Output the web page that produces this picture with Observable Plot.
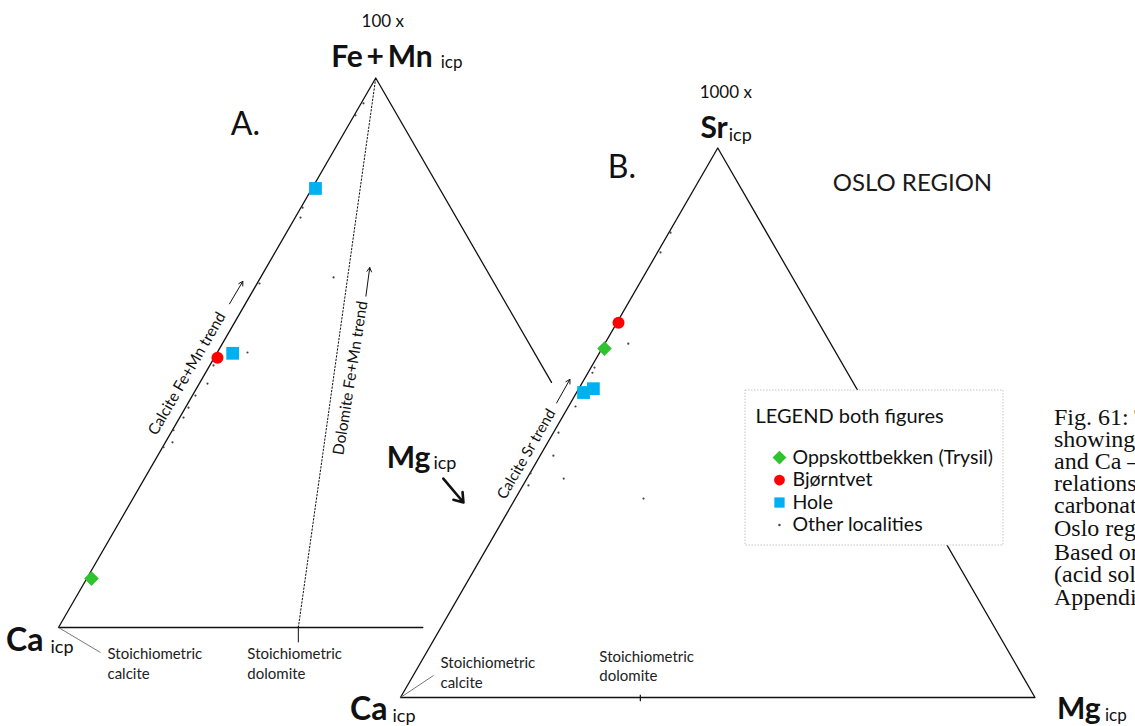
<!DOCTYPE html>
<html>
<head>
<meta charset="utf-8">
<script src="https://cdn.jsdelivr.net/npm/d3@7"></script>
<script src="https://cdn.jsdelivr.net/npm/@observablehq/plot@0.6"></script>
<style>
  html, body { margin: 0; padding: 0; background: #fff; overflow: hidden; }
</style>
</head>
<body>
<div id="chart"></div>
<script>
// ---------------- DATA (percent of the ternary sum) ----------------
const localities      = ["Oppskottbekken (Trysil)", "Bjørntvet", "Hole", "Other localities"];
const localityColors  = ["#2ec42e", "#ff0000", "#00b0f0", "#444444"];
const localitySymbols = ["diamond2", "circle", "square", "circle"];

// Panel A : (Fe+Mn)x100 – Ca – Mg
const aSampleLocality = ["Oppskottbekken (Trysil)", "Bjørntvet", "Hole", "Hole"];
const aSampleFeMn     = [8.9, 49.1, 79.9, 49.9];
const aSampleMg       = [0.75, 0.5, 0.55, 2.5];
const aOtherFeMn = [95.4, 93.2, 76.4, 74.6, 62.6, 63.7, 50.05, 47.7, 44.4, 42.2, 40.0, 38.2, 35.9, 33.7, 32.8];
const aOtherMg   = [0.37, 0.2, 0.26, 0.84, 0.38, 11.5, 4.76, 0.58, 1.28, 0.49, 0.49, 0.6, 0.17, 1.12, 0.15];

// Panel B : Sr x1000 – Ca – Mg
const bSampleLocality = ["Oppskottbekken (Trysil)", "Bjørntvet", "Hole", "Hole"];
const bSampleSr       = [63.5, 68.2, 55.5, 56.2];
const bSampleMg       = [0.4, 0.26, 1.1, 2.3];
const bOtherSr = [84.6, 81.0, 64.4, 60.05, 59.1, 52.96, 48.2, 44.0, 40.8, 39.85, 38.6, 36.2];
const bOtherMg = [0.25, 0.48, 3.7, 0.55, 0.7, 1.1, 0.8, 2.1, 0.1, 5.8, 0.87, 20.2];

const stoichDolomiteMg = 37.8;   // Mg share of stoichiometric dolomite on the Ca–Mg side

// visible parts of the triangle outlines (top %, Mg %)
const aOutlineTop = [0, 0, 100, 44.6];
const aOutlineMg  = [57.4, 0, 0, 55.4];
const bOutlineTop = [0, 100, 0, 0];
const bOutlineMg  = [0, 0, 100, 0];

const captionLines1 = ["Fig. 61: Ternary diagrams", "showing Fe+Mn – Ca – Mg", "and Ca – Sr – Mg", "relationships in", "carbonates from the", "Oslo region."];
const captionLines2 = ["Based on ICP analyses", "(acid soluble fraction),", "Appendix"];

// ---------------- LAYOUT ----------------
const W = 1135, H = 726;
const PX = 6.345;                  // pixels per percent of a triangle side
const SQ = Math.sqrt(3) / 2;
const origin = {A: [58 / PX, (H - 627) / PX], B: [400 / PX, (H - 697) / PX]};
function tern(panel, top, mg) {
  const [ox, oy] = origin[panel];
  return {x: ox + mg + top / 2, y: oy + top * SQ};
}
const seg = (p, q) => ({x1: p.x, y1: p.y, x2: q.x, y2: q.y});
const SANS = "Lato, 'Open Sans', sans-serif";
const SERIF = "'Liberation Serif', 'DejaVu Serif', serif";
function txt(p, text, o) {
  return Plot.text([{x: p.x, y: p.y, text}], {x: "x", y: "y", text: "text", fontFamily: SANS, fill: "#111", ...o});
}
const color = Object.fromEntries(localities.map((l, i) => [l, localityColors[i]]));
const symbol = Object.fromEntries(localities.map((l, i) => [l, localitySymbols[i]]));
const sizeOf = {"Oppskottbekken (Trysil)": 6.6, "Bjørntvet": 6, "Hole": 7.2, "Other localities": 1.2};
const legendSize = [6.2, 5.4, 5.8, 1.2];

const aSamples = aSampleLocality.map((loc, i) => ({loc, ...tern("A", aSampleFeMn[i], aSampleMg[i])}));
const bSamples = bSampleLocality.map((loc, i) => ({loc, ...tern("B", bSampleSr[i], bSampleMg[i])}));
const aOther = aOtherFeMn.map((t, i) => tern("A", t, aOtherMg[i]));
const bOther = bOtherSr.map((t, i) => tern("B", t, bOtherMg[i]));
const aOutline = aOutlineTop.map((t, i) => tern("A", t, aOutlineMg[i]));
const bOutline = bOutlineTop.map((t, i) => tern("B", t, bOutlineMg[i]));

const apexA = tern("A", 100, 0), caA = tern("A", 0, 0), dolA = tern("A", 0, stoichDolomiteMg);
const apexB = tern("B", 100, 0), caB = tern("B", 0, 0), mgB = tern("B", 0, 100), dolB = tern("B", 0, stoichDolomiteMg);

// legend frame (top-left corner relative to panel B origin, in %)
const L0 = {x: origin.B[0] + 54.37, y: origin.B[1] + 48.38};
const legendRowY = localities.map((_, i) => L0.y - (67 + 22.5 * i) / PX);

function sampleDots(data) {
  return localities.slice(0, 3).map(loc =>
    Plot.dot(data.filter(d => d.loc === loc), {
      x: "x", y: "y", symbol: symbol[loc], fill: color[loc], r: sizeOf[loc]
    }));
}
const lk = {x1: "x1", y1: "y1", x2: "x2", y2: "y2"};

const marks = [
  // ---- Panel A ----
  Plot.line(aOutline, {x: "x", y: "y", stroke: "#111", strokeWidth: 1.3}),
  Plot.line([dolA, apexA], {x: "x", y: "y", stroke: "#111", strokeWidth: 1, strokeDasharray: "1.5,2"}),
  Plot.link([seg(tern("A", 0.3, stoichDolomiteMg - 0.15), tern("A", -2.7, stoichDolomiteMg + 1.35))], {...lk, stroke: "#111", strokeWidth: 1}),
  Plot.link([seg(caA, tern("A", -4.55, 8.9))], {...lk, stroke: "#666", strokeWidth: 0.9}),
  Plot.dot(aOther, {x: "x", y: "y", r: 1.1, fill: "#444"}),
  ...sampleDots(aSamples),

  txt(apexA, "100 x", {dx: 7, dy: -51, fontSize: 17, lineAnchor: "bottom"}),
  txt(apexA, "Fe\u2009+\u2009Mn", {dx: 57, dy: -11, fontSize: 30, fontWeight: "bold", textAnchor: "end", lineAnchor: "bottom"}),
  txt(apexA, "icp", {dx: 65, dy: -10, fontSize: 17, textAnchor: "start", lineAnchor: "bottom"}),
  txt(apexA, "A.", {dx: -145, dy: 57, fontSize: 32, textAnchor: "start", lineAnchor: "bottom"}),
  txt(caA, "Ca", {dx: -15, dy: 23, fontSize: 32, fontWeight: "bold", textAnchor: "end", lineAnchor: "bottom"}),
  txt(caA, "icp", {dx: -8, dy: 25, fontSize: 18, textAnchor: "start", lineAnchor: "bottom"}),
  txt(caA, "Stoichiometric\ncalcite", {dx: 49, dy: 51, fontSize: 15, lineHeight: 1.33, textAnchor: "start", lineAnchor: "bottom", fill: "#222"}),
  txt(dolA, "Stoichiometric\ndolomite", {dx: -51, dy: 51, fontSize: 15, lineHeight: 1.33, textAnchor: "start", lineAnchor: "bottom", fill: "#222"}),
  txt(tern("A", 46.2, -2.85), "Calcite Fe+Mn trend", {rotate: -60, fontSize: 15.5, lineAnchor: "middle"}),
  Plot.arrow([seg(tern("A", 58.9, -2.5), tern("A", 63.0, -2.45))], {...lk, stroke: "#111", strokeWidth: 1, headLength: 7}),
  txt(tern("A", 45.4, 23.32), "Dolomite Fe+Mn trend", {rotate: -81, fontSize: 15.5, lineAnchor: "middle"}),
  Plot.arrow([seg(tern("A", 60.3, 18.3), tern("A", 65.5, 16.3))], {...lk, stroke: "#111", strokeWidth: 1, headLength: 7}),
  txt(tern("A", 29.1, 44.07), "Mg", {fontSize: 30, fontWeight: "bold", textAnchor: "end", lineAnchor: "bottom"}),
  txt(tern("A", 29.1, 44.07), "icp", {dx: 3, dy: 1, fontSize: 18, textAnchor: "start", lineAnchor: "bottom"}),
  Plot.arrow([seg(tern("A", 27.1, 47.1), tern("A", 22.75, 52.45))], {...lk, stroke: "#111", strokeWidth: 2.6, headLength: 9, headAngle: 70}),

  // ---- Panel B ----
  Plot.line(bOutline, {x: "x", y: "y", stroke: "#111", strokeWidth: 1.3}),
  Plot.link([seg(tern("B", 0.5, stoichDolomiteMg - 0.25), tern("B", -0.7, stoichDolomiteMg + 0.35))], {...lk, stroke: "#111", strokeWidth: 1.2}),
  Plot.link([seg(caB, tern("B", 4.0, 3.2))], {...lk, stroke: "#666", strokeWidth: 0.9}),
  Plot.dot(bOther, {x: "x", y: "y", r: 1.1, fill: "#444"}),
  ...sampleDots(bSamples),

  txt(apexB, "1000 x", {dx: 8, dy: -50, fontSize: 17, lineAnchor: "bottom"}),
  txt(apexB, "Sr", {dx: 10, dy: -10, fontSize: 30, fontWeight: "bold", textAnchor: "end", lineAnchor: "bottom"}),
  txt(apexB, "icp", {dx: 11, dy: -7, fontSize: 18, textAnchor: "start", lineAnchor: "bottom"}),
  txt(apexB, "B.", {dx: -110, dy: 30, fontSize: 32, textAnchor: "start", lineAnchor: "bottom"}),
  txt(apexB, "OSLO REGION", {dx: 115, dy: 43, fontSize: 24, textAnchor: "start", lineAnchor: "bottom", fill: "#1a1a1a"}),
  txt(caB, "Ca", {dx: -13, dy: 22, fontSize: 32, fontWeight: "bold", textAnchor: "end", lineAnchor: "bottom"}),
  txt(caB, "icp", {dx: -8, dy: 24, fontSize: 18, textAnchor: "start", lineAnchor: "bottom"}),
  txt(mgB, "Mg", {dx: 22, dy: 21, fontSize: 30, fontWeight: "bold", textAnchor: "start", lineAnchor: "bottom"}),
  txt(mgB, "icp", {dx: 70, dy: 23, fontSize: 17, textAnchor: "start", lineAnchor: "bottom"}),
  txt(caB, "Stoichiometric\ncalcite", {dx: 40, dy: -10, fontSize: 15, lineHeight: 1.33, textAnchor: "start", lineAnchor: "bottom", fill: "#222"}),
  txt(dolB, "Stoichiometric\ndolomite", {dx: -41, dy: -17, fontSize: 15, lineHeight: 1.25, textAnchor: "start", lineAnchor: "bottom", fill: "#222"}),
  txt(tern("B", 44.3, -2.3), "Calcite Sr trend", {rotate: -60, fontSize: 15, lineAnchor: "middle"}),
  Plot.arrow([seg(tern("B", 53.6, -2.2), tern("B", 57.9, -2.25))], {...lk, stroke: "#111", strokeWidth: 1, headLength: 7}),

  // ---- Legend ----
  Plot.rect([{x1: L0.x, x2: L0.x + 258 / PX, y1: L0.y - 155 / PX, y2: L0.y}],
            {...lk, fill: "white", stroke: "#c4c4c4", strokeWidth: 1, strokeDasharray: "1.5,1.5"}),
  txt(L0, "LEGEND both figures", {dx: 10, dy: 32, fontSize: 20, textAnchor: "start", lineAnchor: "bottom"}),
  Plot.dot(localities, {x: () => L0.x, y: (d, i) => legendRowY[i], dx: 34,
    symbol: (d, i) => localitySymbols[i], fill: (d, i) => localityColors[i], r: (d, i) => legendSize[i]}),
  Plot.text(localities, {x: () => L0.x, y: (d, i) => legendRowY[i], dx: 47, text: d => d,
    fontFamily: SANS, fontSize: 19.5, fill: "#111", textAnchor: "start", lineAnchor: "middle"}),

  // ---- Caption (cut by the frame edge) ----
  txt(mgB, captionLines1.join("\n"), {dx: 19, dy: -162, fontFamily: SERIF, fontSize: 24, lineHeight: 0.92, textAnchor: "start", lineAnchor: "bottom"}),
  txt(mgB, captionLines2.join("\n"), {dx: 19, dy: -93, fontFamily: SERIF, fontSize: 24, lineHeight: 0.92, textAnchor: "start", lineAnchor: "bottom"})
];

const chart = Plot.plot({
  width: W, height: H,
  margin: 0,
  x: {domain: [0, W / PX], axis: null},
  y: {domain: [0, H / PX], axis: null},
  r: {type: "identity"},
  symbol: {type: "identity"},
  color: {type: "identity"},
  style: {background: "white", fontFamily: SANS},
  marks
});
document.getElementById("chart").append(chart);
</script>
</body>
</html>
